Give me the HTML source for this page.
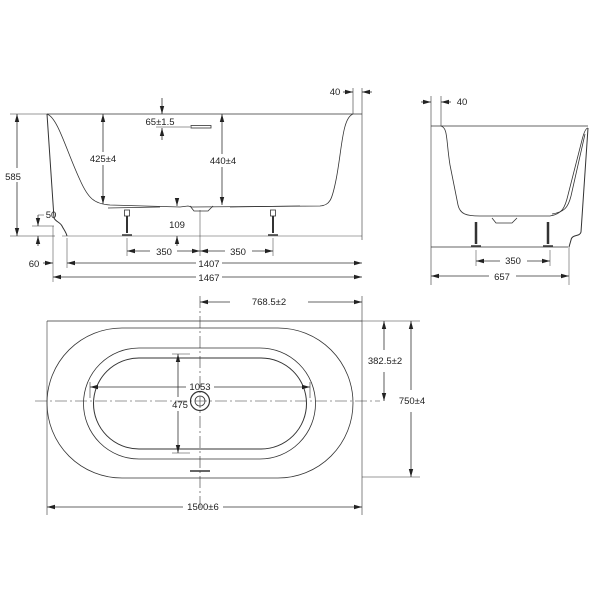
<!DOCTYPE html>
<html><head><meta charset="utf-8"><style>
html,body{margin:0;padding:0;background:#fff;}
svg{display:block;font-family:"Liberation Sans",sans-serif;font-size:9.5px;}
text{fill:#222;}
</style></head><body>
<svg width="600" height="600" viewBox="0 0 600 600" xmlns="http://www.w3.org/2000/svg">
<defs>
<marker id="a" viewBox="0 0 8 6" refX="8" refY="3" markerWidth="8" markerHeight="6" orient="auto-start-reverse" markerUnits="userSpaceOnUse"><path d="M0,0.8 L8,3 L0,5.2z" fill="#222"/></marker>
</defs>
<g stroke="#333" stroke-width="0.8" fill="none">
<!-- SIDE VIEW -->
<line x1="47" y1="114" x2="362" y2="114"/>
<line x1="62" y1="236" x2="362" y2="236" stroke="#888"/>
<line x1="362" y1="88" x2="362" y2="240" stroke-width="0.6"/>
<line x1="353" y1="88" x2="353" y2="114" stroke-width="0.6"/>
<path d="M47,114 L54,218 C56,222 60,222 62,226 C64,230 66,232 67,236" stroke-width="1"/>
<path d="M47,114 C58,118 66,150 80,180 C88,198 94,204 110,205 L180,207 L188,206 L192,207 L320,206 C330,205 332,200 336,180 C342,150 342,118 353,114"/>
<path d="M108,208 L160,207 M230,207 L300,206"/>
<path d="M190,206 L194,211 L208,211 L213,206"/>
<!-- legs -->
<rect x="124.5" y="210" width="5" height="6"/><line x1="127" y1="216" x2="127" y2="233" stroke-width="2"/><line x1="122" y1="235" x2="132" y2="235" stroke-width="1.5"/>
<rect x="270.5" y="210" width="5" height="6"/><line x1="273" y1="216" x2="273" y2="233" stroke-width="2"/><line x1="268" y1="235" x2="278" y2="235" stroke-width="1.5"/>
<!-- dims side -->
<line x1="10" y1="114" x2="47" y2="114" stroke-width="0.5"/>
<line x1="10" y1="236" x2="55" y2="236" stroke-width="0.5"/>
<line x1="17" y1="168" x2="17" y2="114" marker-end="url(#a)"/>
<line x1="17" y1="182" x2="17" y2="236" marker-end="url(#a)"/>
<line x1="103" y1="152" x2="103" y2="114" marker-end="url(#a)"/>
<line x1="103" y1="165" x2="103" y2="204" marker-end="url(#a)"/>
<line x1="222" y1="154" x2="222" y2="114" marker-end="url(#a)"/>
<line x1="222" y1="167" x2="222" y2="205" marker-end="url(#a)"/>
<line x1="162" y1="98" x2="162" y2="114" marker-end="url(#a)"/>
<line x1="162" y1="140" x2="162" y2="128" marker-end="url(#a)"/>
<line x1="156" y1="127" x2="190" y2="127" stroke-width="0.5"/>
<rect x="191" y="125.5" width="20" height="2.5"/>
<line x1="177" y1="198" x2="177" y2="206" marker-end="url(#a)"/>
<line x1="177" y1="246" x2="177" y2="236" marker-end="url(#a)"/>
<line x1="200" y1="210" x2="200" y2="256" stroke-width="0.5"/>
<line x1="127" y1="238" x2="127" y2="256" stroke-width="0.5"/>
<line x1="273" y1="238" x2="273" y2="256" stroke-width="0.5"/>
<line x1="150" y1="251" x2="127" y2="251" marker-end="url(#a)"/>
<line x1="177" y1="251" x2="200" y2="251" marker-end="url(#a)"/>
<line x1="225" y1="251" x2="200" y2="251" marker-end="url(#a)"/>
<line x1="252" y1="251" x2="273" y2="251" marker-end="url(#a)"/>
<line x1="53" y1="226" x2="53" y2="282" stroke-width="0.5"/>
<line x1="67" y1="238" x2="67" y2="268" stroke-width="0.5"/>
<line x1="43" y1="263" x2="53" y2="263" marker-end="url(#a)"/>
<line x1="196" y1="263" x2="67" y2="263" marker-end="url(#a)"/>
<line x1="222" y1="263" x2="362" y2="263" marker-end="url(#a)"/>
<line x1="196" y1="277" x2="53" y2="277" marker-end="url(#a)"/>
<line x1="222" y1="277" x2="362" y2="277" marker-end="url(#a)"/>
<line x1="32" y1="226" x2="54" y2="226" stroke-width="0.5"/>
<line x1="38" y1="215" x2="38" y2="226" marker-end="url(#a)"/>
<line x1="38" y1="246" x2="38" y2="236" marker-end="url(#a)"/>
<line x1="38" y1="215" x2="44" y2="215" stroke-width="0.5"/>
<line x1="343" y1="92" x2="353" y2="92" marker-end="url(#a)"/>
<line x1="372" y1="92" x2="362" y2="92" marker-end="url(#a)"/>
<!-- END VIEW -->
<line x1="431" y1="126" x2="588" y2="126"/>
<line x1="431" y1="96" x2="431" y2="285" stroke-width="0.6"/>
<line x1="441" y1="96" x2="441" y2="126" stroke-width="0.6"/>
<line x1="431" y1="247" x2="568" y2="247"/>
<path d="M441,126 C448,128 446,140 450,165 L458,205 C460,214 466,216 480,216 L550,216 C562,214 565,208 568,195 L582,140 C584,132 586,128 588,128"/>
<path d="M585,134 L571,196 C568,208 564,212 552,214"/>
<path d="M588,128 L581,232 C580,237 572,234 571,240 L569,247" stroke-width="1"/>
<path d="M492,218 L496,223 L512,223 L517,218"/>
<line x1="476" y1="222" x2="476" y2="244" stroke-width="2.5"/><line x1="471" y1="246" x2="481" y2="246" stroke-width="1.5"/>
<line x1="548" y1="222" x2="548" y2="244" stroke-width="2.5"/><line x1="543" y1="246" x2="553" y2="246" stroke-width="1.5"/>
<line x1="421" y1="102" x2="431" y2="102" marker-end="url(#a)"/>
<line x1="451" y1="102" x2="441" y2="102" marker-end="url(#a)"/>
<line x1="476" y1="250" x2="476" y2="266" stroke-width="0.5"/>
<line x1="550" y1="250" x2="550" y2="266" stroke-width="0.5"/>
<line x1="569" y1="247" x2="569" y2="285" stroke-width="0.5"/>
<line x1="500" y1="261" x2="476" y2="261" marker-end="url(#a)"/>
<line x1="527" y1="261" x2="550" y2="261" marker-end="url(#a)"/>
<line x1="489" y1="276" x2="431" y2="276" marker-end="url(#a)"/>
<line x1="516" y1="276" x2="569" y2="276" marker-end="url(#a)"/>
<!-- TOP VIEW -->
<line x1="47" y1="321" x2="362" y2="321"/>
<line x1="47" y1="321" x2="47" y2="515" stroke-width="0.6"/>
<line x1="362" y1="296" x2="362" y2="515" stroke-width="0.6"/>
<line x1="362" y1="477" x2="420" y2="477" stroke-width="0.5"/>
<line x1="362" y1="321" x2="420" y2="321" stroke-width="0.5"/>
<path d="M122,328 L278,328 A75,75 0 0 1 278,478 L122,478 A75,75 0 0 1 122,328z"/>
<path d="M139,348 L260,348 A55.5,55.5 0 0 1 260,459 L139,459 A55.5,55.5 0 0 1 139,348z"/>
<path d="M139,358 L261,358 A45.5,45.5 0 0 1 261,449 L139,449 A45.5,45.5 0 0 1 139,358z" stroke-width="1"/>
<line x1="35" y1="401" x2="380" y2="401" stroke-dasharray="12,3,2,3" stroke-width="0.6"/>
<line x1="200" y1="296" x2="200" y2="510" stroke-dasharray="12,3,2,3" stroke-width="0.6"/>
<circle cx="200" cy="401" r="9.5" stroke-width="1.2"/>
<circle cx="200" cy="401" r="5"/>
<line x1="190" y1="471" x2="210" y2="471" stroke-width="1.5"/>
<line x1="230" y1="302" x2="200" y2="302" marker-end="url(#a)"/>
<line x1="308" y1="302" x2="362" y2="302" marker-end="url(#a)"/>
<line x1="384" y1="350" x2="384" y2="321" marker-end="url(#a)"/>
<line x1="384" y1="372" x2="384" y2="401" marker-end="url(#a)"/>
<line x1="411" y1="390" x2="411" y2="321" marker-end="url(#a)"/>
<line x1="411" y1="412" x2="411" y2="477" marker-end="url(#a)"/>
<line x1="183" y1="507" x2="47" y2="507" marker-end="url(#a)"/>
<line x1="223" y1="507" x2="362" y2="507" marker-end="url(#a)"/>
<line x1="186" y1="387" x2="90" y2="387" marker-end="url(#a)"/>
<line x1="214" y1="387" x2="310" y2="387" marker-end="url(#a)"/>
<line x1="90" y1="382" x2="90" y2="398" stroke-width="0.6"/>
<line x1="310" y1="382" x2="310" y2="398" stroke-width="0.6"/>
<line x1="178" y1="397" x2="178" y2="354" marker-end="url(#a)"/>
<line x1="178" y1="411" x2="178" y2="453" marker-end="url(#a)"/>
<line x1="172" y1="354" x2="190" y2="354" stroke-width="0.5"/>
<line x1="172" y1="453" x2="190" y2="453" stroke-width="0.5"/>
</g>
<g text-anchor="middle">
<text x="13" y="180">585</text>
<text x="103" y="162">425±4</text>
<text x="223" y="164">440±4</text>
<text x="160" y="125">65±1.5</text>
<text x="177" y="228">109</text>
<text x="164" y="255">350</text>
<text x="238" y="255">350</text>
<text x="34" y="267">60</text>
<text x="209" y="267">1407</text>
<text x="209" y="281">1467</text>
<text x="51" y="218">50</text>
<text x="335" y="95">40</text>
<text x="462" y="105">40</text>
<text x="513" y="264">350</text>
<text x="502" y="280">657</text>
<text x="269" y="305">768.5±2</text>
<text x="385" y="364">382.5±2</text>
<text x="412" y="404">750±4</text>
<text x="203" y="510">1500±6</text>
<text x="200" y="390">1053</text>
<text x="180" y="408">475</text>
</g>
</svg>
</body></html>
